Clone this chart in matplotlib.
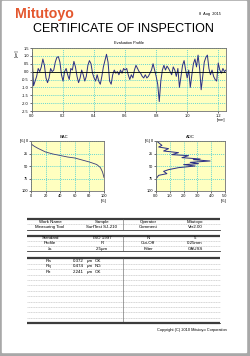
import numpy as np
import matplotlib
matplotlib.use('Agg')
from matplotlib import pyplot as plt
from matplotlib import font_manager
from matplotlib.patches import Rectangle

plt.rcParams['font.family'] = ['Liberation Sans', 'DejaVu Sans']

# ---- data read off the certificate ----
# evaluation profile [um], one reading every 0.01 mm
profile_step = 0.01
profile_um = [
    1.2, -0.9, -0.6, -0.3, 0.2, 0.0, 0.3, 0.8, 0.4, -0.4,
    -0.7, -0.4, 0.2, 0.0, 0.1, 0.6, 0.9, 0.95, 0.6, -0.2,
    -0.6, 0.0, 0.2, -0.2, -0.5, 0.2, 0.1, 0.65, 0.3, -0.3,
    -0.7, -0.4, 0.1, -0.2, -0.6, -0.3, 0.4, 0.7, 0.5, -0.1,
    -0.4, -0.6, -0.2, -0.6, -0.8, -0.3, 0.3, 0.7, 1.1, 0.6,
    -0.6, -0.8, -0.2, 0.1, -0.1, 0.0, -0.2, 0.1, -0.1, 0.2,
    0.1, 0.2, -0.2, -0.5, -0.2, -0.4, 0.1, 0.4, 0.2, 0.0,
    -0.1, -0.3, -0.4, -0.2, -0.4, -0.3, -0.1, 0.1, 0.5, 0.1,
    -0.3, -0.8, -1.9, -0.6, 0.1, 0.4, 0.1, 0.35, 0.2, 0.0,
    -0.2, 0.3, 0.1, -0.3, 0.2, -1.0, -0.3, 0.4, 0.7, 0.1,
    -0.4, 0.1, -1.0, -0.2, 0.5, 0.8, 0.3, 1.05, 0.2, -1.15,
    -0.3, 0.6, 0.9, 1.05, 0.2, -0.2, 0.1, -0.3, -0.5, -0.6,
    0.55, 0.1, -0.1, 0.2, 0.0, 0.1,
]
profile_ticks = [0.0, 0.2, 0.4, 0.6, 0.8, 1.0, 1.2]
profile_yticks = [1.5, 1.0, 0.5, 0.0, -0.5, -1.0, -1.5, -2.0, -2.5]

# bearing area curve
bac_ratio = [0, 2, 5, 10, 20, 30, 40, 50, 60, 70, 80, 90, 95, 98, 100]
bac_depth = [5, 8, 11, 15, 22, 26, 29, 32, 34, 38, 42, 47, 53, 62, 73]

# amplitude distribution curve
adc_pct = [0.07, 0.43, 0.19, 0.91, 0.55, 1.63, 1.15, 2.36, 1.88, 3.2, 2.7, 3.92,
           2.48, 3.08, 2.0, 2.84, 1.63, 0.91, 0.55, 0.79, 0.19, 0.07, 0.0, 0.0]
adc_depth = [0.7, 8.7, 12, 15.3, 20, 23.3, 27.3, 29.3, 33.3, 36, 37.3, 40,
             42.7, 45.3, 47.3, 50, 53.3, 57.3, 60.7, 65.3, 68.7, 73.3, 75, 100]

# tables
info_rows = [["Work Name", "Sample", "Operator", "Mitutoyo"],
             ["Measuring Tool", "SurfTest SJ-210", "Comment", "Ver2.00"]]
cond_rows = [["Standard", "ISO 1997", "N", "5"],
             ["Profile", "R", "Cut-Off", "0.25mm"],
             ["\u03bbs", "2.5\u00b5m", "Filter", "GAUSS"]]
result_names = ["Ra", "Rq", "Rz"]
result_values = ["0.372", "0.474", "2.241"]
result_judge = ["OK", "NG", "OK"]

W, H = 250, 356
fig = plt.figure(figsize=(W / 100, H / 100), dpi=100)

# page layer in pixel coordinates
page = fig.add_axes([0, 0, 1, 1])
page.set_xlim(0, W)
page.set_ylim(H, 0)
page.axis('off')
page.add_patch(Rectangle((0, 0), W, H, color='#a8a8a8'))
page.add_patch(Rectangle((2, 1), 244, 351, color='white'))

page.text(15, 18, "Mitutoyo", color='#e4572e', fontsize=10.2, fontweight='bold')
page.text(221, 13.5, "8  Aug  2015", fontsize=2.8, ha='right', va='center')

# grey title band
grad = np.array([0.80, 0.86, 0.90, 0.92, 0.90, 0.86, 0.80, 0.74]).reshape(-1, 1)
page.imshow(grad, cmap='gray', vmin=0, vmax=1, extent=[14, 236, 34.5, 22.5], aspect='auto')
page.set_xlim(0, W)
page.set_ylim(H, 0)

# narrow face for the big heading if there is one
names = {f.name for f in font_manager.fontManager.ttflist}
if 'Liberation Sans Narrow' in names:
    page.text(123, 29, "CERTIFICATE OF INSPECTION", fontsize=10.4, ha='center',
              va='center', family='Liberation Sans Narrow')
else:
    page.text(123, 29, "CERTIFICATE OF INSPECTION", fontsize=9.0, ha='center', va='center')

page.text(129, 43.5, "Evaluation Profile", fontsize=2.8, ha='center', va='center')
page.text(17, 53, "[um]", fontsize=2.8, rotation=90, ha='center', va='center')
page.text(221, 120, "[mm]", fontsize=2.8, ha='center', va='center')
page.text(64, 136.5, "BAC", fontsize=3, ha='center', va='center')
page.text(190, 136.5, "ADC", fontsize=3, ha='center', va='center')
page.text(23, 141, "[%]", fontsize=2.8, ha='center', va='center')
page.text(148, 141, "[%]", fontsize=2.8, ha='center', va='center')
page.text(104, 201, "[%]", fontsize=2.8, ha='center', va='center')
page.text(224, 201, "[%]", fontsize=2.8, ha='center', va='center')

# tables
x0, x1, xmid = 27, 220, 123
col_x = [50, 102, 148, 195]
fs = 3.2


def table(top, pitch, nrows, rows):
    page.plot([x0, x1], [top, top], color='#3c3c3c', lw=1.6, solid_capstyle='butt')
    for i in range(1, nrows):
        y = top + i * pitch
        page.plot([x0, x1], [y, y], color='#b8b8b8', lw=0.4, ls=(0, (2, 1)))
    bottom = top + nrows * pitch
    page.plot([x0, x1], [bottom, bottom], color='#3c3c3c', lw=0.6)
    page.plot([xmid, xmid], [top, bottom], color='#5a5a5a', lw=0.4)
    for i, r in enumerate(rows):
        y = top + (i + 0.5) * pitch
        for cx, s in zip(col_x, r):
            page.text(cx, y, s, fontsize=fs, ha='center', va='center')
    return bottom


table(219, 5.3, 2, info_rows)
table(235.5, 5.3, 3, cond_rows)
bot = table(258.3, 5.4, 12, [])
page.plot([x0, x1], [bot, bot], color='#3c3c3c', lw=1.6, solid_capstyle='butt')
for i in range(3):
    y = 258.3 + (i + 0.5) * 5.4
    page.text(48, y, result_names[i], fontsize=fs, ha='center', va='center')
    page.text(73, y, result_values[i], fontsize=fs, ha='left', va='center')
    page.text(87, y, "\u00b5m", fontsize=fs, ha='left', va='center')
    page.text(95, y, result_judge[i], fontsize=fs, ha='left', va='center')

page.text(227, 330.5, "Copyright (C) 2010 Mitutoyo Corporation", fontsize=2.8,
          ha='right', va='center')


def style(ax):
    ax.set_facecolor('#ffffc0')
    for s in ax.spines.values():
        s.set_color('#707070')
        s.set_linewidth(0.6)
    ax.tick_params(labelsize=2.8, length=1.2, width=0.4, pad=1, colors='black')
    ax.grid(True, color='#30c8d8', lw=0.5, ls=(0, (1.5, 1.5)))


def px_axes(left, top, right, bottom):
    return fig.add_axes([left / W, 1 - bottom / H, (right - left) / W, (bottom - top) / H])


# evaluation profile
ax = px_axes(32, 48, 226, 111)
style(ax)
px = np.arange(len(profile_um)) * profile_step
ax.plot(px, profile_um, color='#2b2f86', lw=0.7)
ax.axhline(0, color='black', lw=0.6)
ax.set_xlim(0, 1.25)
ax.set_ylim(-2.5, 1.5)
ax.set_xticks(profile_ticks)
ax.set_xticklabels(['%.1f' % t for t in profile_ticks])
ax.set_yticks(profile_yticks)
ax.set_yticklabels(['%.1f' % t for t in profile_yticks])

# BAC
ax = px_axes(31, 141, 104, 191)
style(ax)
ax.plot(bac_ratio, bac_depth, color='#3a3d7a', lw=0.6)
ax.set_xlim(0, 100)
ax.set_ylim(100, 0)
ax.set_xticks([0, 20, 40, 60, 80, 100])
ax.set_yticks([0, 25, 50, 75, 100])

# ADC
ax = px_axes(156, 141, 225, 191)
style(ax)
ax.plot(adc_pct, adc_depth, color='#2b2f86', lw=0.7)
ax.set_xlim(0, 5)
ax.set_ylim(100, 0)
ax.set_xticks([0, 1, 2, 3, 4, 5])
ax.set_xticklabels(['0.0', '1.0', '2.0', '3.0', '4.0', '5.0'])
ax.set_yticks([0, 25, 50, 75, 100])

fig.savefig('out.png', dpi=100)
